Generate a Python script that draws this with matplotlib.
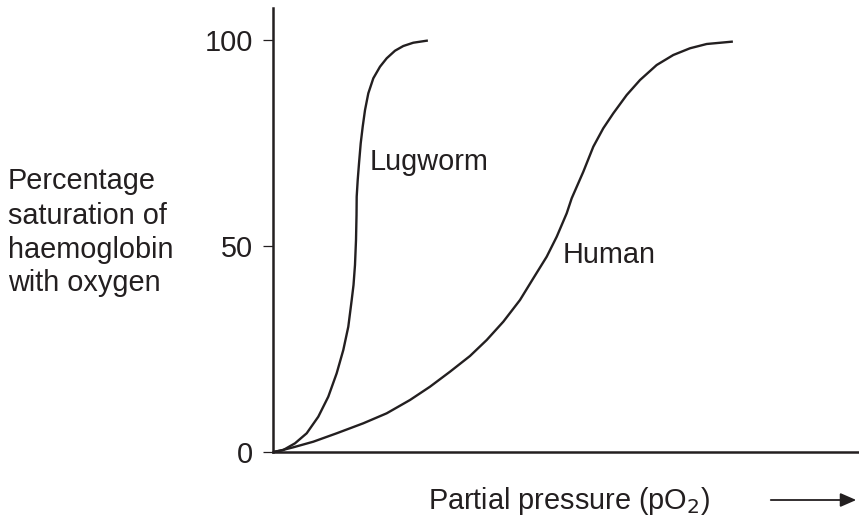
import numpy as np
import matplotlib.pyplot as plt
from matplotlib.patches import FancyArrowPatch

plt.rcParams['font.family'] = ['Liberation Sans', 'DejaVu Sans']

ink = '#231f20'

# values (x in arbitrary pO2 units, y in % saturation)
lug_x = [0, 0.35, 1.82, 3.88, 5.94, 7.99, 9.75, 11.23, 12.40, 13.28, 13.88, 14.20, 14.46, 14.64,
         14.73, 14.76, 14.94, 15.17, 15.47, 15.82, 16.23, 16.81, 17.69, 18.87, 20.05, 21.52,
         22.98, 24.74, 27.11]
lug_y = [0, 0.07, 0.49, 2.11, 4.54, 8.57, 13.42, 19.10, 24.76, 30.41, 36.89, 40.53, 45.39, 51.46,
         57.52, 61.97, 66.02, 70.07, 74.93, 78.96, 83.01, 87.06, 90.70, 93.52, 95.56, 97.40,
         98.54, 99.34, 99.83]

hum_x = [0, 1.23, 3.58, 7.11, 11.23, 15.93, 20.05, 24.16, 27.69, 31.22, 34.74, 37.69, 40.62,
         43.56, 45.91, 48.27, 50.04, 51.80, 52.68, 54.73, 56.49, 58.25, 60.02, 62.38, 64.73,
         67.67, 70.60, 73.54, 76.49, 80.90]
hum_y = [0, 0.32, 1.14, 2.50, 4.54, 6.97, 9.39, 12.62, 15.85, 19.49, 23.30, 27.18, 31.63,
         36.89, 42.16, 47.40, 52.26, 57.94, 61.58, 68.03, 74.10, 78.57, 82.21, 86.65, 90.29,
         93.93, 96.36, 97.99, 99.03, 99.59]

yticks = [0, 50, 100]
ylabel_lines = ['Percentage', 'saturation of', 'haemoglobin', 'with oxygen']

fs = 20.8

fig = plt.figure(figsize=(8.59, 5.2), dpi=100)
ax = fig.add_axes([273 / 859, 68 / 520, 586 / 859, 444 / 520])

ax.plot(lug_x, lug_y, color=ink, lw=1.7, solid_joinstyle='round')
ax.plot(hum_x, hum_y, color=ink, lw=1.7, solid_joinstyle='round')

ax.set_xlim(0, 586 / 5.67)
ax.set_ylim(0, 444 / 4.12)
ax.set_xticks([])
ax.set_yticks(yticks)
ax.tick_params(axis='y', length=7.2, width=0.9, color=ink, pad=7, labelsize=fs, labelcolor=ink)
for s in ['top', 'right']:
    ax.spines[s].set_visible(False)
for s in ['left', 'bottom']:
    ax.spines[s].set_color(ink)
    ax.spines[s].set_linewidth(1.8)

ax.text(17.1, 68.4, 'Lugworm', fontsize=fs, color=ink, ha='left', va='baseline')
ax.text(51.1, 45.9, 'Human', fontsize=fs, color=ink, ha='left', va='baseline')

# y label, one line at a time (baselines in pixels from top)
for line, base in zip(ylabel_lines, [189, 224, 258, 291]):
    fig.text(8 / 859, 1 - base / 520, line, fontsize=fs, color=ink, ha='left', va='baseline')

fig.text(428 / 859, 1 - 509 / 520, 'Partial pressure (pO$_2$)', fontsize=fs, color=ink,
         ha='left', va='baseline')
fig.patches.append(FancyArrowPatch(
    (768 / 859, 1 - 500 / 520), (859 / 859, 1 - 500 / 520), transform=fig.transFigure,
    arrowstyle='-|>,head_length=0.8,head_width=0.35', color=ink, lw=1.3, mutation_scale=12))

fig.savefig('out.png', dpi=100)
